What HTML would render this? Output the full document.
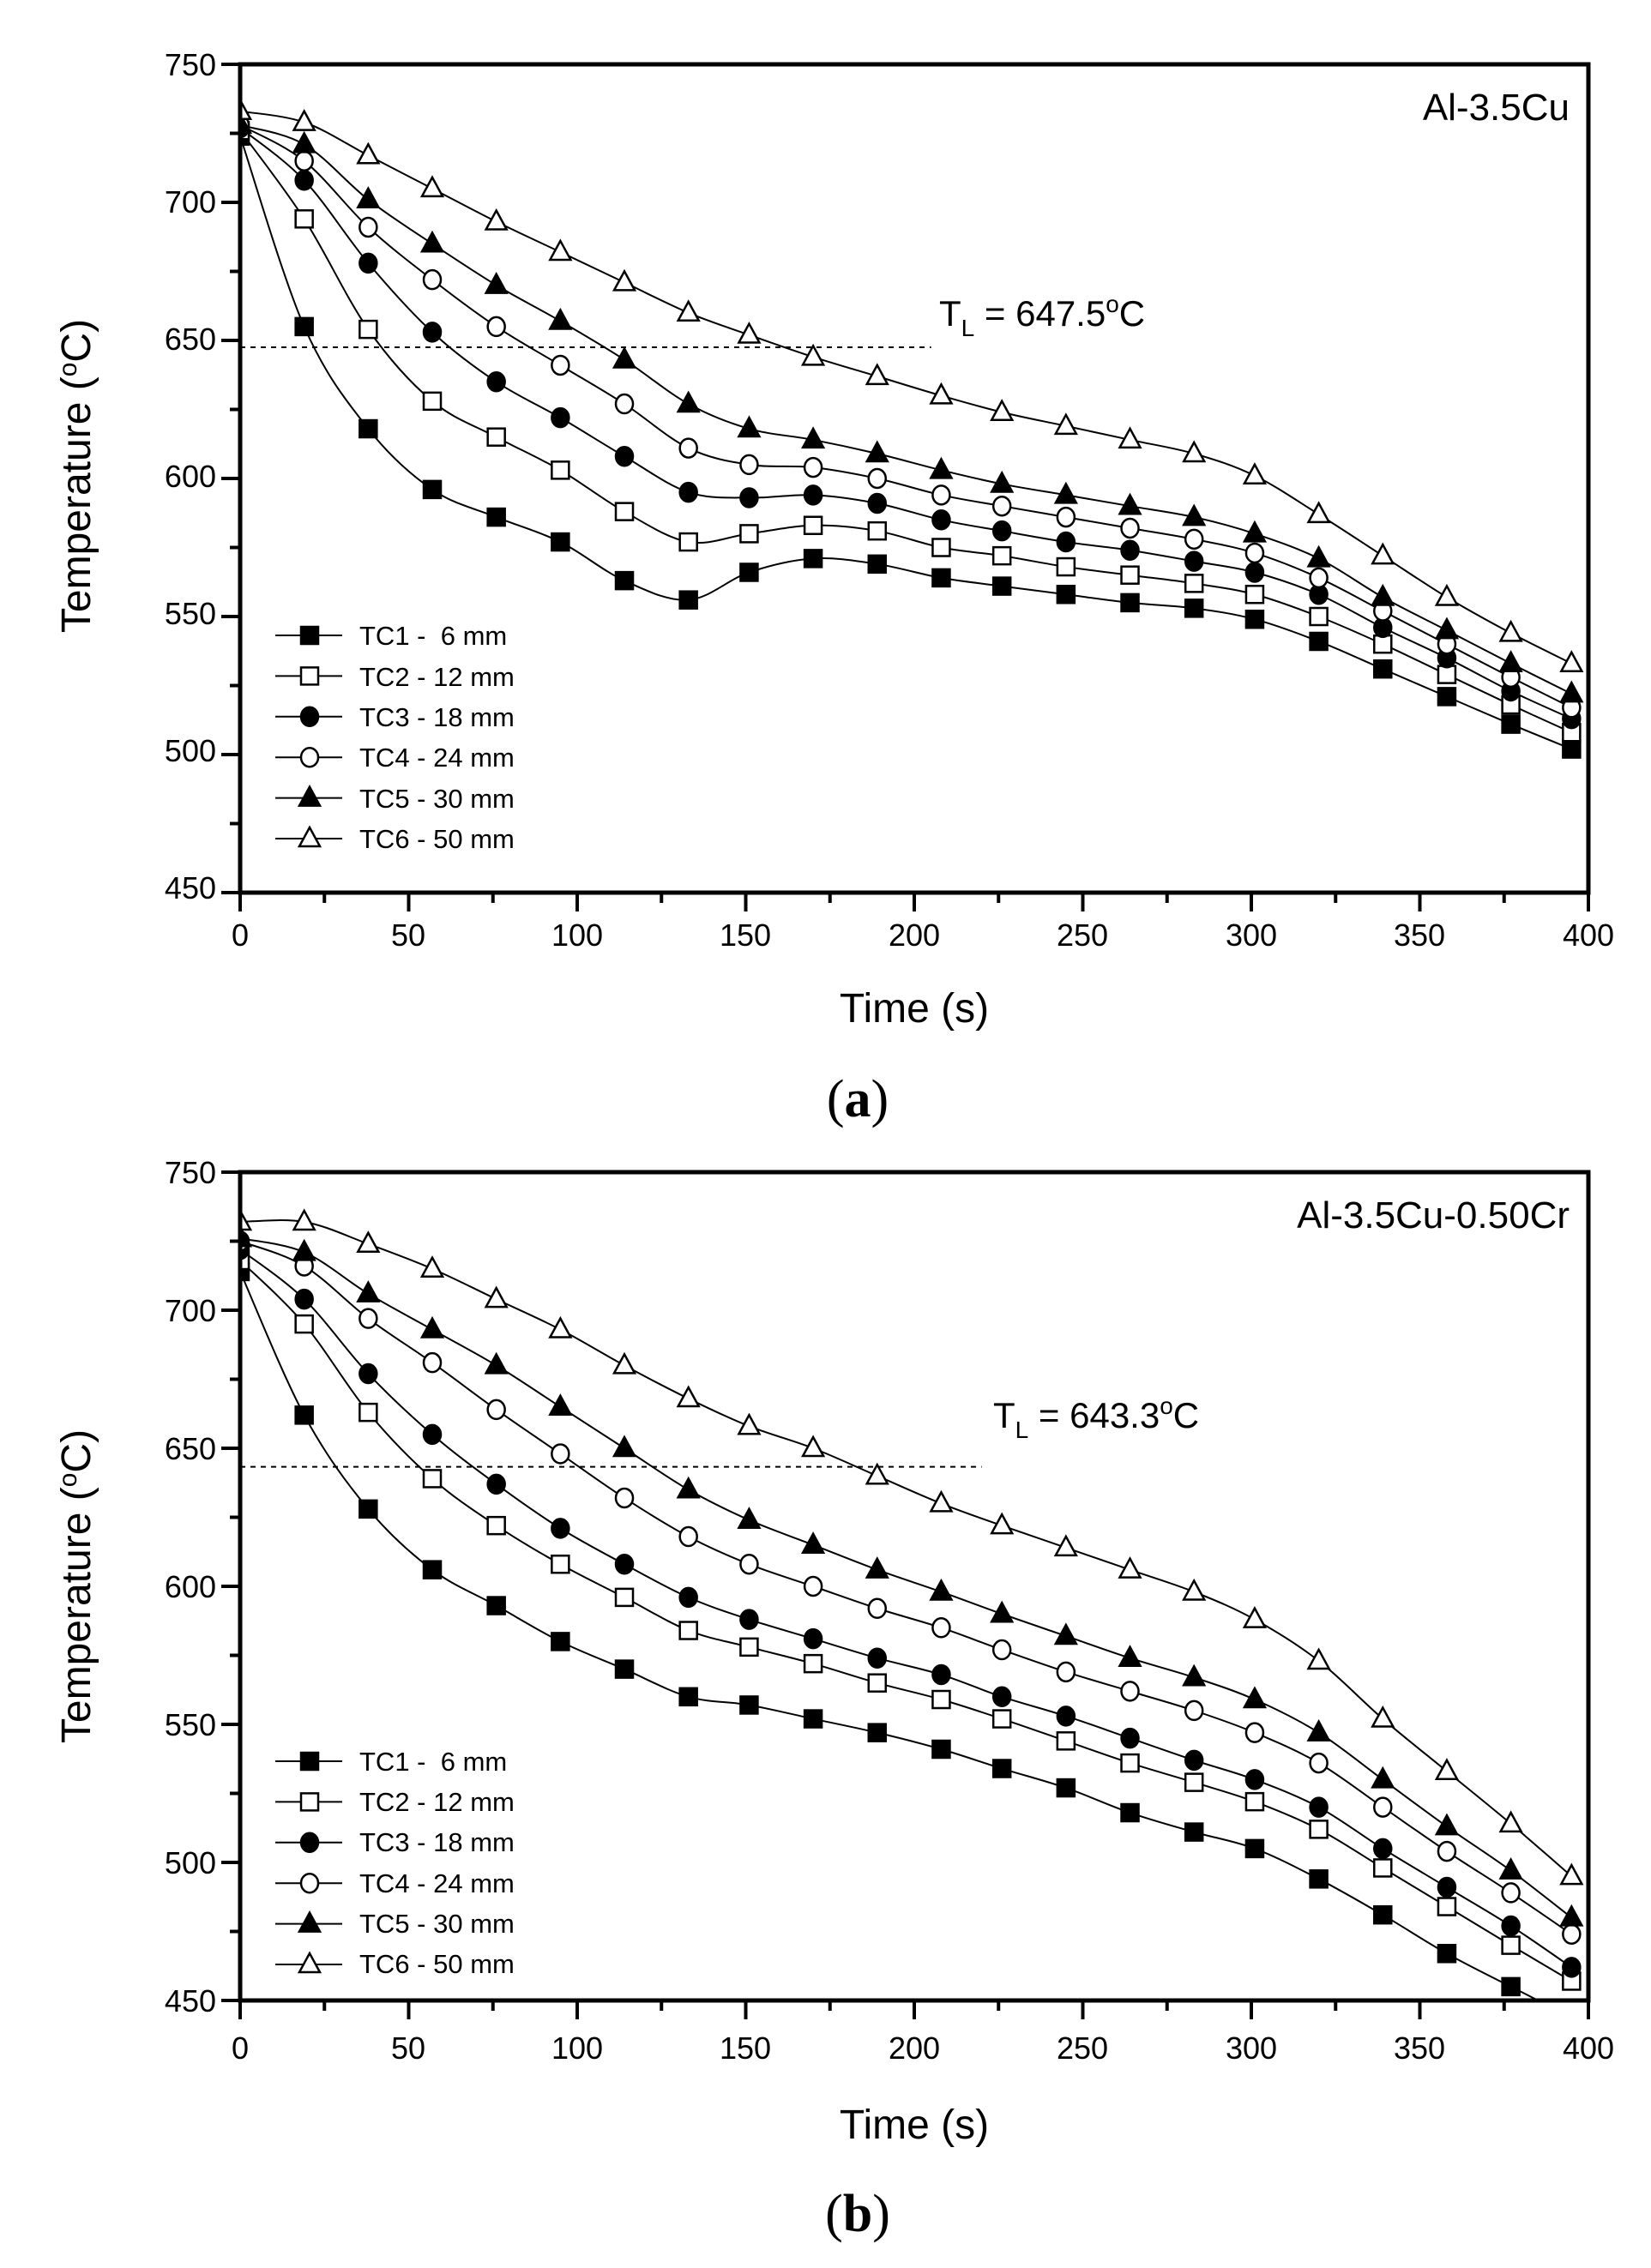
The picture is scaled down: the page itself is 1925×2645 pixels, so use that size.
<!DOCTYPE html>
<html><head><meta charset="utf-8">
<style>
html,body{margin:0;padding:0;background:#fff;}
svg{display:block;}
text{font-family:"Liberation Sans",Arial,sans-serif;fill:#000;}
text.serif{font-family:"Liberation Serif",serif;}
</style></head>
<body>
<svg id="s" width="1925" height="2645" viewBox="0 0 1925 2645" xmlns="http://www.w3.org/2000/svg">
<rect width="1925" height="2645" fill="#fff"/>
<g id="pa"></g>
<g id="pb"></g>
<!-- Panel a text -->
<g font-size="36" text-anchor="end">
<text x="252" y="88">750</text><text x="252" y="248">700</text><text x="252" y="408">650</text>
<text x="252" y="568">600</text><text x="252" y="728">550</text><text x="252" y="888">500</text><text x="252" y="1048">450</text>
</g>
<g font-size="36" text-anchor="middle">
<text x="280" y="1103">0</text><text x="476" y="1103">50</text><text x="673" y="1103">100</text><text x="869" y="1103">150</text>
<text x="1066" y="1103">200</text><text x="1262" y="1103">250</text><text x="1459" y="1103">300</text><text x="1655" y="1103">350</text><text x="1852" y="1103">400</text>
</g>
<text x="1066" y="1192" font-size="48" text-anchor="middle">Time (s)</text>
<text transform="translate(105,555) rotate(-90)" font-size="48" text-anchor="middle">Temperature (<tspan font-size="30" dy="-16">o</tspan><tspan dy="16">C)</tspan></text>
<text x="1830" y="140" font-size="44" text-anchor="end">Al-3.5Cu</text>
<text x="1095" y="380" font-size="42">T<tspan font-size="28" dy="12">L</tspan><tspan dy="-12"> = 647.5</tspan><tspan font-size="28" dy="-16">o</tspan><tspan dy="16">C</tspan></text>
<text class="serif" x="1000" y="1302" font-size="62" text-anchor="middle">(<tspan font-weight="bold">a</tspan>)</text>
<g font-size="31">
<text x="419" y="752">TC1 - &#160;6 mm</text><text x="419" y="800">TC2 - 12 mm</text><text x="419" y="847">TC3 - 18 mm</text>
<text x="419" y="894">TC4 - 24 mm</text><text x="419" y="942">TC5 - 30 mm</text><text x="419" y="989">TC6 - 50 mm</text>
</g>
<!-- Panel b text -->
<g font-size="36" text-anchor="end">
<text x="252" y="1380">750</text><text x="252" y="1541">700</text><text x="252" y="1702">650</text>
<text x="252" y="1863">600</text><text x="252" y="2024">550</text><text x="252" y="2185">500</text><text x="252" y="2346">450</text>
</g>
<g font-size="36" text-anchor="middle">
<text x="280" y="2401">0</text><text x="476" y="2401">50</text><text x="673" y="2401">100</text><text x="869" y="2401">150</text>
<text x="1066" y="2401">200</text><text x="1262" y="2401">250</text><text x="1459" y="2401">300</text><text x="1655" y="2401">350</text><text x="1852" y="2401">400</text>
</g>
<text x="1066" y="2494" font-size="48" text-anchor="middle">Time (s)</text>
<text transform="translate(105,1850) rotate(-90)" font-size="48" text-anchor="middle">Temperature (<tspan font-size="30" dy="-16">o</tspan><tspan dy="16">C)</tspan></text>
<text x="1830" y="1432" font-size="44" text-anchor="end">Al-3.5Cu-0.50Cr</text>
<text x="1158" y="1665" font-size="42">T<tspan font-size="28" dy="12">L</tspan><tspan dy="-12"> = 643.3</tspan><tspan font-size="28" dy="-16">o</tspan><tspan dy="16">C</tspan></text>
<text class="serif" x="1000" y="2602" font-size="62" text-anchor="middle">(<tspan font-weight="bold">b</tspan>)</text>
<g font-size="31">
<text x="419" y="2065">TC1 - &#160;6 mm</text><text x="419" y="2112">TC2 - 12 mm</text><text x="419" y="2159">TC3 - 18 mm</text>
<text x="419" y="2207">TC4 - 24 mm</text><text x="419" y="2254">TC5 - 30 mm</text><text x="419" y="2301">TC6 - 50 mm</text>
</g>
</svg>
<script>
var NS="http://www.w3.org/2000/svg";
var T=[0,19,38,57,76,95,114,133,151,170,189,208,226,245,264,283,301,320,339,358,377,395];
var A=[
[724,655,618,596,586,577,563,556,566,571,569,564,561,558,555,553,549,541,531,521,511,502],
[726,694,654,628,615,603,588,577,580,583,581,575,572,568,565,562,558,550,540,529,518,508],
[727,708,678,653,635,622,608,595,593,594,591,585,581,577,574,570,566,558,546,535,523,513],
[728,715,691,672,655,641,627,611,605,604,600,594,590,586,582,578,573,564,552,540,528,517],
[728,721,701,685,670,657,643,627,618,614,609,603,598,594,590,586,580,571,557,545,533,522],
[733,729,717,705,693,682,671,660,652,644,637,630,624,619,614,609,601,587,572,557,544,533]];
var B=[
[714,662,628,606,593,580,570,560,557,552,547,541,534,527,518,511,505,494,481,467,455,444],
[718,695,663,639,622,608,596,584,578,572,565,559,552,544,536,529,522,512,498,484,470,457],
[722,704,677,655,637,621,608,596,588,581,574,568,560,553,545,537,530,520,505,491,477,462],
[725,716,697,681,664,648,632,618,608,600,592,585,577,569,562,555,547,536,520,504,489,474],
[726,721,706,693,680,665,650,635,624,615,606,598,590,582,574,567,559,547,530,513,497,480],
[732,732,724,715,704,693,680,668,658,650,640,630,622,614,606,598,588,573,552,533,514,495]];
function el(g,n,a){var e=document.createElementNS(NS,n);for(var k in a)e.setAttribute(k,a[k]);g.appendChild(e);return e;}
function marker(g,k,x,y){
 var f=(k%2==0)?"#000":"#fff";
 if(k<2) el(g,"rect",{x:x-10,y:y-10,width:20,height:20,fill:f,stroke:"#000","stroke-width":2.5});
 else if(k<4) el(g,"ellipse",{cx:x,cy:y,rx:10,ry:11,fill:f,stroke:"#000","stroke-width":2.5});
 else el(g,"polygon",{points:(x)+","+(y-13)+" "+(x-12)+","+(y+9)+" "+(x+12)+","+(y+9),fill:f,stroke:"#000","stroke-width":2.5});
}
function panel(id,y0,D,tl,tlEnd,legY){
 var g=document.getElementById(id);
 var X=function(t){return 280+t*(1572/400);}, Y=function(v){return y0+(750-v)*(966/300);};
 var yb=Y(450);
 var cid="c"+id; var cp=el(el(g,"defs",{}),"clipPath",{id:cid}); el(cp,"rect",{x:280,y:y0,width:1572,height:yb-y0});
 var cg=el(g,"g",{"clip-path":"url(#"+cid+")"});
 el(cg,"line",{x1:280,y1:Y(tl),x2:X(tlEnd),y2:Y(tl),stroke:"#000","stroke-width":2,"stroke-dasharray":"6,6"});
 for(var k=0;k<6;k++){
  var P=T.map(function(t,i){return [X(t),Y(D[k][i])];});
  var d="M"+P[0][0]+","+P[0][1];
  for(var i=0;i<P.length-1;i++){
   var p0=P[Math.max(i-1,0)],p1=P[i],p2=P[i+1],p3=P[Math.min(i+2,P.length-1)];
   d+=" C"+(p1[0]+(p2[0]-p0[0])/6)+","+(p1[1]+(p2[1]-p0[1])/6)+" "+(p2[0]-(p3[0]-p1[0])/6)+","+(p2[1]-(p3[1]-p1[1])/6)+" "+p2[0]+","+p2[1];
  }
  el(cg,"path",{d:d,fill:"none",stroke:"#000","stroke-width":2});
 }
 for(var k=0;k<6;k++) for(var i=0;i<T.length;i++){var v=D[k][i]; if(v>=446) marker(cg,k,X(T[i]),Y(v));}
 el(g,"rect",{x:280,y:y0,width:1572,height:yb-y0,fill:"none",stroke:"#000","stroke-width":5});
 for(var v=450;v<=750;v+=25){var L=(v%50==0)?22:12; el(g,"line",{x1:280-L,y1:Y(v),x2:280,y2:Y(v),stroke:"#000","stroke-width":4});}
 for(var t=0;t<=400;t+=25){var L=(t%50==0)?22:12; el(g,"line",{x1:X(t),y1:yb,x2:X(t),y2:yb+L,stroke:"#000","stroke-width":4});}
 for(var k=0;k<6;k++){var yy=legY+k*47.4; el(g,"line",{x1:321,y1:yy,x2:399,y2:yy,stroke:"#000","stroke-width":2}); marker(g,k,361,yy);}
}
panel("pa",75,A,647.5,205,741);
panel("pb",1367,B,643.3,220,2054);
</script>
</body></html>
